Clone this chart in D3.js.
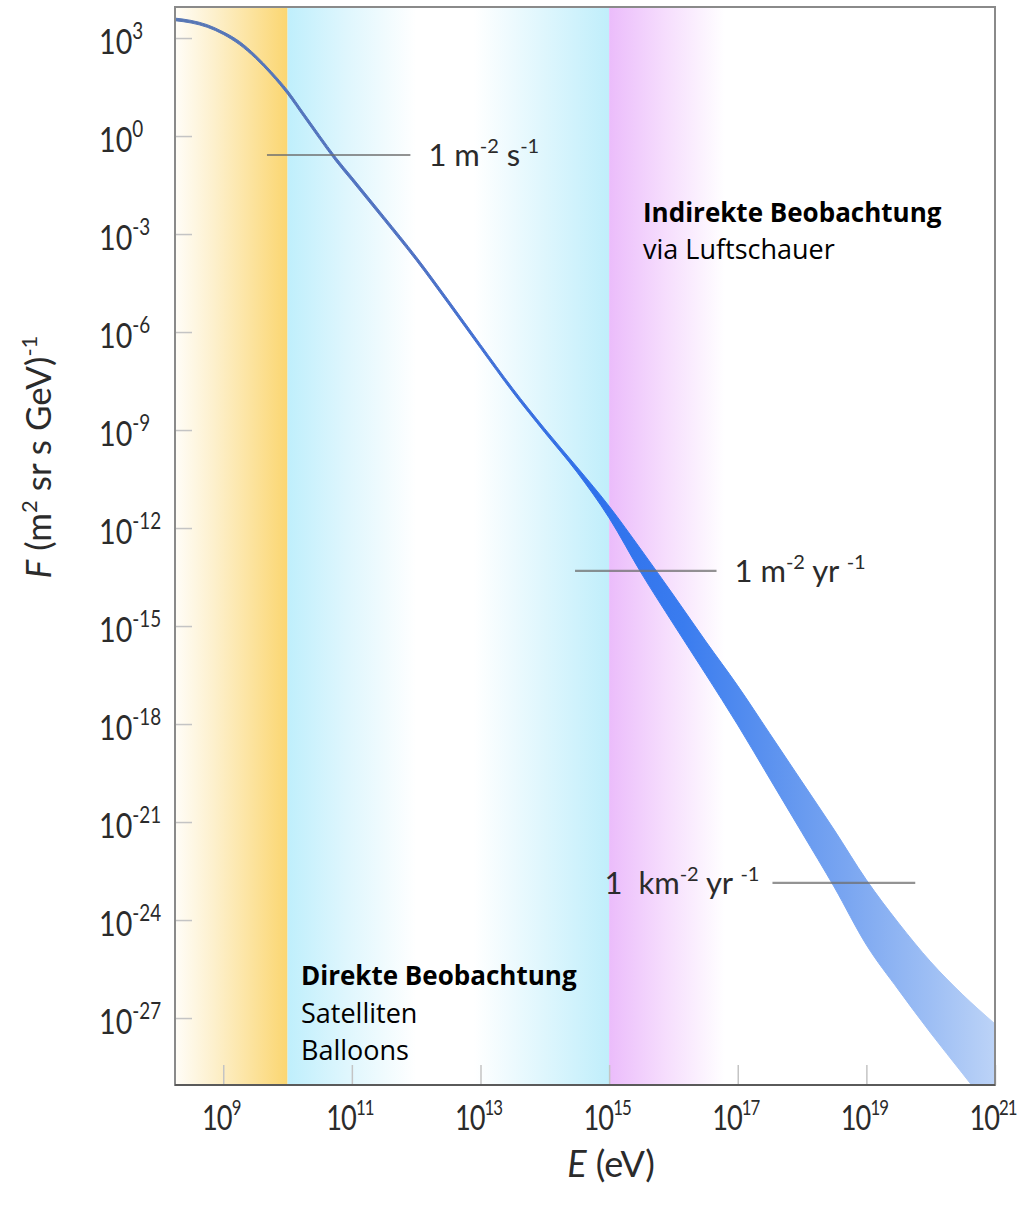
<!DOCTYPE html>
<html>
<head>
<meta charset="utf-8">
<script src="https://cdn.jsdelivr.net/npm/d3@7"></script>
<style>
  html, body { margin: 0; padding: 0; background: #fff; }
  svg { display: block; }
</style>
</head>
<body>
<svg id="chart" width="1021" height="1206"></svg>
<script>
// Cosmic-ray all-particle flux. Energies and fluxes are stored as log10 values.
const logEnergy = [8.25, 8.5, 8.75, 9.0, 9.25, 9.5, 9.75, 10.0, 10.25, 10.5, 10.75, 11.0,
  11.5, 12.0, 12.5, 13.0, 13.5, 14.0, 14.5, 15.0, 15.5, 16.0, 16.5, 17.0, 17.5, 18.0,
  18.5, 19.0, 19.5, 20.0, 20.5, 21.0];
const logFluxUpper = [3.61, 3.54, 3.41, 3.19, 2.90, 2.48, 1.97, 1.40, 0.71, 0.02, -0.65, -1.25,
  -2.46, -3.69, -5.02, -6.38, -7.72, -8.96, -10.13, -11.33, -12.67, -14.05, -15.46, -16.83,
  -18.30, -19.77, -21.24, -22.77, -24.09, -25.28, -26.29, -27.18];
const logFluxLower = [3.53, 3.46, 3.33, 3.11, 2.80, 2.38, 1.87, 1.28, 0.59, -0.10, -0.77, -1.37,
  -2.58, -3.81, -5.14, -6.50, -7.84, -9.08, -10.29, -11.69, -13.38, -14.94, -16.47, -18.03,
  -19.68, -21.33, -22.99, -24.76, -26.14, -27.46, -28.71, -29.97];

// Integral-rate reference lines: label parts, log10 flux, log10 energy span
const refLabels = [
  ["1 m", "-2", " s", "-1"],
  ["1 m", "-2", " yr ", "-1"],
  ["1  km", "-2", " yr ", "-1"]
];
const refLogFlux = [-0.58, -13.31, -22.86];
const refLogEStart = [9.68, 14.47, 17.54];
const refLogEEnd = [11.91, 16.67, 19.76];
const refLabelSide = ["right", "right", "left"];

// Axis ticks (exponents of ten)
const xTickExponents = [9, 11, 13, 15, 17, 19, 21];
const yTickExponents = [3, 0, -3, -6, -9, -12, -15, -18, -21, -24, -27];

// Observation regimes (log10 E boundaries)
const directRange = [10, 15];
const indirectFadeEnd = 16.8;

const svg = d3.select("#chart");
const plot = { left: 175, right: 995, top: 7, bottom: 1085 };

const x = d3.scaleLog().domain([Math.pow(10, 8.25), 1e21]).range([plot.left, plot.right]);
const y = d3.scaleLog().domain([Math.pow(10, 3.95), Math.pow(10, -29.05)]).range([plot.top, plot.bottom]);
const p10 = v => Math.pow(10, v);

const defs = svg.append("defs");
defs.append("clipPath").attr("id", "plotClip")
  .append("rect").attr("x", plot.left).attr("y", plot.top)
  .attr("width", plot.right - plot.left).attr("height", plot.bottom - plot.top);

function hGrad(id, x1, x2, stops) {
  const g = defs.append("linearGradient").attr("id", id)
    .attr("gradientUnits", "userSpaceOnUse")
    .attr("x1", x1).attr("x2", x2).attr("y1", 0).attr("y2", 0);
  stops.forEach(s => g.append("stop").attr("offset", s[0]).attr("stop-color", s[1]));
}

const xLeft = plot.left, x10 = x(p10(directRange[0])), x15 = x(p10(directRange[1]));
const xFade = x(p10(indirectFadeEnd));

hGrad("gYellow", xLeft, x10, [[0, "#fffdf8"], [0.35, "#fdf0cc"], [1, "#fbd671"]]);
hGrad("gCyan", x10, x15, [[0, "#bfeffc"], [0.18, "#def6fd"], [0.4, "#ffffff"], [0.58, "#ffffff"], [1, "#c0eefb"]]);
hGrad("gPink", x15, xFade, [[0, "#ebbcfb"], [0.5, "#f6defd"], [1, "#ffffff"]]);
hGrad("gBand", x(p10(8.25)), x(p10(21)), [
  [0, "#5877b4"], [0.3, "#4f72c4"], [0.42, "#3a6fde"], [0.52, "#2f71ec"],
  [0.62, "#3a7cef"], [0.72, "#5a91ef"], [0.82, "#7aa6f1"], [0.92, "#9dbef4"], [1, "#bcd3f7"]
]);

const bg = svg.append("g").attr("clip-path", "url(#plotClip)");
bg.append("rect").attr("x", xLeft).attr("y", plot.top).attr("width", x10 - xLeft)
  .attr("height", plot.bottom - plot.top).attr("fill", "url(#gYellow)");
bg.append("rect").attr("x", x10).attr("y", plot.top).attr("width", x15 - x10)
  .attr("height", plot.bottom - plot.top).attr("fill", "url(#gCyan)");
bg.append("rect").attr("x", x15).attr("y", plot.top).attr("width", xFade - x15)
  .attr("height", plot.bottom - plot.top).attr("fill", "url(#gPink)");

// Inner tick marks
const tickColor = "#c4c4c4";
const xAxis = d3.axisBottom(x).tickValues(xTickExponents.map(p10)).tickSize(-20).tickFormat("");
const gx = svg.append("g").attr("transform", `translate(0,${plot.bottom})`).call(xAxis);
gx.select(".domain").remove();
gx.selectAll(".tick line").attr("stroke", tickColor).attr("stroke-width", 1.5);

const yAxis = d3.axisLeft(y).tickValues(yTickExponents.map(p10)).tickSize(-17).tickFormat("");
const gy = svg.append("g").attr("transform", `translate(${plot.left},0)`).call(yAxis);
gy.select(".domain").remove();
gy.selectAll(".tick line").attr("stroke", tickColor).attr("stroke-width", 1.5);

// Flux band
const area = d3.area()
  .x((d, i) => x(p10(logEnergy[i])))
  .y0((d, i) => y(p10(logFluxLower[i])))
  .y1((d, i) => y(p10(logFluxUpper[i])))
  .curve(d3.curveMonotoneX);
svg.append("g").attr("clip-path", "url(#plotClip)")
  .append("path").datum(logEnergy)
  .attr("d", area)
  .attr("fill", "url(#gBand)")
  .attr("stroke", "url(#gBand)")
  .attr("stroke-width", 1)
  .attr("stroke-linejoin", "round");

// Reference lines and their labels
const labelFont = "Lato, 'Open Sans', sans-serif";
const ink = "#2b2b2b";
refLogFlux.forEach((f, i) => {
  const yy = y(p10(f));
  const xa = x(p10(refLogEStart[i])), xb = x(p10(refLogEEnd[i]));
  svg.append("line").attr("x1", xa).attr("x2", xb).attr("y1", yy).attr("y2", yy)
    .attr("stroke", "#6f6f6f").attr("stroke-opacity", 0.75).attr("stroke-width", 2.2);
  const p = refLabels[i];
  const t = svg.append("text")
    .attr("y", yy + 11)
    .attr("xml:space", "preserve")
    .style("white-space", "pre")
    .attr("font-family", labelFont).attr("font-size", 31).attr("fill", ink);
  if (refLabelSide[i] === "right") {
    t.attr("x", xb + 18).attr("text-anchor", "start");
  } else {
    t.attr("x", xa - 13).attr("text-anchor", "end");
  }
  t.append("tspan").text(p[0]);
  t.append("tspan").attr("dy", -13).attr("font-size", 20).text(p[1]);
  t.append("tspan").attr("dy", 13).text(p[2]);
  t.append("tspan").attr("dy", -13).attr("font-size", 20).text(p[3]);
});

// Frame
svg.append("rect").attr("x", plot.left).attr("y", plot.top)
  .attr("width", plot.right - plot.left).attr("height", plot.bottom - plot.top)
  .attr("fill", "none").attr("stroke", "#8a8a8a").attr("stroke-width", 2);
svg.append("line").attr("x1", plot.left).attr("x2", plot.right)
  .attr("y1", plot.bottom).attr("y2", plot.bottom)
  .attr("stroke", "#5a5a5a").attr("stroke-width", 2.2);

// Tick labels: "10" with a superscript exponent, in a narrow setting
const tickFont = "Lato, 'Open Sans', sans-serif";
function powerLabel(tx, ty, exp, anchor, opts) {
  const g = svg.append("g").attr("transform", `translate(${tx},${ty}) scale(${opts.sx},1)`);
  const t = g.append("text").attr("x", 0).attr("y", 0).attr("text-anchor", anchor)
    .attr("letter-spacing", opts.ls)
    .attr("font-family", tickFont).attr("font-size", opts.fs).attr("fill", ink);
  t.append("tspan").text("10");
  t.append("tspan").attr("dy", -15).attr("font-size", opts.sup).text(String(exp));
}
yTickExponents.forEach(e => powerLabel(99, y(p10(e)) + 16, e, "start", { sx: 0.82, fs: 35, sup: 23, ls: 0 }));
xTickExponents.forEach(e => powerLabel(x(p10(e)) - 2, 1130, e, "middle", { sx: 0.8, fs: 34, sup: 21, ls: -1.2 }));

// Axis titles
const xt = svg.append("text").attr("x", 611).attr("y", 1177).attr("text-anchor", "middle")
  .attr("font-family", tickFont).attr("font-size", 36).attr("fill", ink);
xt.append("tspan").attr("font-style", "italic").text("E");
xt.append("tspan").text(" (eV)");

const yt = svg.append("text")
  .attr("transform", "translate(51,457) rotate(-90)")
  .attr("text-anchor", "middle")
  .attr("font-family", tickFont).attr("font-size", 35).attr("fill", ink);
yt.append("tspan").attr("font-style", "italic").text("F");
yt.append("tspan").text(" (m");
yt.append("tspan").attr("dy", -14).attr("font-size", 22).text("2");
yt.append("tspan").attr("dy", 14).text(" sr s GeV)");
yt.append("tspan").attr("dy", -14).attr("font-size", 22).text("-1");

// Observation regime annotations
const noteFont = "'Open Sans', 'Noto Sans', sans-serif";
const ind = svg.append("g").attr("font-family", noteFont).attr("fill", "#000");
ind.append("text").attr("x", 643).attr("y", 222).attr("font-size", 26).attr("font-weight", "bold").text("Indirekte Beobachtung");
ind.append("text").attr("x", 643).attr("y", 259).attr("font-size", 27).text("via Luftschauer");

const dir = svg.append("g").attr("font-family", noteFont).attr("fill", "#000");
dir.append("text").attr("x", 301).attr("y", 985).attr("font-size", 26).attr("font-weight", "bold").text("Direkte Beobachtung");
dir.append("text").attr("x", 301).attr("y", 1023).attr("font-size", 27).text("Satelliten");
dir.append("text").attr("x", 301).attr("y", 1060).attr("font-size", 27).text("Balloons");
</script>
</body>
</html>
